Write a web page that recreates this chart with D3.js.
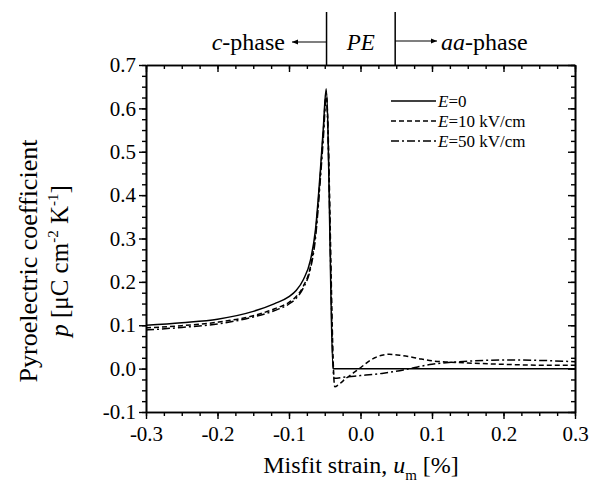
<!DOCTYPE html>
<html>
<head>
<meta charset="utf-8">
<script src="https://cdn.jsdelivr.net/npm/d3@7"></script>
</head>
<body style="margin:0">
<script>
// E = 0
const u0 = [-0.3, -0.25, -0.2, -0.15, -0.12, -0.1, -0.09, -0.08, -0.07, -0.063, -0.056, -0.052, -0.048, -0.038, 0.3];
const p0 = [0.100, 0.106, 0.114, 0.132, 0.150, 0.166, 0.180, 0.205, 0.250, 0.320, 0.460, 0.555, 0.645, 0.0, 0.0];
// E = 10 kV/cm
const u10 = [-0.3, -0.25, -0.2, -0.15, -0.12, -0.1, -0.09, -0.08, -0.07, -0.063, -0.056, -0.052, -0.048, -0.036, -0.03, -0.02, -0.01, 0.0, 0.01, 0.02, 0.03, 0.04, 0.055, 0.07, 0.085, 0.1, 0.125, 0.15, 0.2, 0.25, 0.3];
const p10 = [0.094, 0.099, 0.107, 0.122, 0.138, 0.153, 0.166, 0.190, 0.235, 0.310, 0.450, 0.545, 0.635, -0.042, -0.036, -0.022, -0.010, 0.002, 0.015, 0.025, 0.031, 0.033, 0.031, 0.027, 0.022, 0.018, 0.015, 0.013, 0.010, 0.008, 0.008];
// E = 50 kV/cm
const u50 = [-0.3, -0.25, -0.2, -0.15, -0.12, -0.1, -0.09, -0.08, -0.07, -0.063, -0.056, -0.052, -0.048, -0.037, -0.02, 0.0, 0.03, 0.06, 0.08, 0.1, 0.13, 0.16, 0.2, 0.25, 0.3];
const p50 = [0.089, 0.095, 0.103, 0.119, 0.134, 0.149, 0.162, 0.186, 0.230, 0.300, 0.440, 0.530, 0.625, -0.022, -0.019, -0.016, -0.011, -0.003, 0.004, 0.010, 0.015, 0.018, 0.020, 0.019, 0.016];

const xTicks = [-0.3, -0.2, -0.1, 0.0, 0.1, 0.2, 0.3];
const yTicks = [-0.1, 0.0, 0.1, 0.2, 0.3, 0.4, 0.5, 0.6, 0.7];
const legendLabels = ["0", "10 kV/cm", "50 kV/cm"];
const phaseBounds = [-0.0475, 0.0485];

const width = 589, height = 489;
const margin = {left: 146, right: 14, top: 65, bottom: 77};
const FONT = "Liberation Serif";

const svg = d3.select("body").append("svg")
    .attr("width", width)
    .attr("height", height)
    .attr("font-family", FONT);

const x = d3.scaleLinear().domain([-0.3, 0.3]).range([margin.left, width - margin.right]);
const y = d3.scaleLinear().domain([-0.1, 0.7]).range([height - margin.bottom, margin.top]);

const minorX = d3.range(-0.3, 0.3001, 0.025);
const minorY = d3.range(-0.1, 0.7001, 0.025);
const fmt = d => d.toFixed(1);

// axes: bottom/left ticks out, top/right ticks in
function drawAxis(axis, transform, labels) {
    const g = svg.append("g").attr("transform", transform).call(axis)
        .attr("font-family", FONT);
    g.select(".domain").attr("stroke-width", 1.6);
    g.selectAll(".tick line").attr("stroke-width", 1.4);
    if (!labels) g.selectAll(".tick text").remove();
    return g;
}

const xb = drawAxis(d3.axisBottom(x).tickValues(xTicks).tickSize(7).tickSizeOuter(0).tickFormat(fmt),
    `translate(0,${y(-0.1)})`, true);
xb.selectAll(".tick text").attr("font-size", 21).attr("y", 11).attr("dy", "0.85em");
drawAxis(d3.axisBottom(x).tickValues(minorX).tickSize(4).tickSizeOuter(0), `translate(0,${y(-0.1)})`, false);

const yl = drawAxis(d3.axisLeft(y).tickValues(yTicks).tickSize(7).tickSizeOuter(0).tickFormat(fmt),
    `translate(${x(-0.3)},0)`, true);
yl.selectAll(".tick text").attr("font-size", 21).attr("x", -10);
drawAxis(d3.axisLeft(y).tickValues(minorY).tickSize(4).tickSizeOuter(0), `translate(${x(-0.3)},0)`, false);

drawAxis(d3.axisBottom(x).tickValues(xTicks).tickSize(7).tickSizeOuter(0), `translate(0,${y(0.7)})`, false);
drawAxis(d3.axisBottom(x).tickValues(minorX).tickSize(4).tickSizeOuter(0), `translate(0,${y(0.7)})`, false);
drawAxis(d3.axisLeft(y).tickValues(yTicks).tickSize(-7).tickSizeOuter(0), `translate(${x(0.3)},0)`, false)
    .selectAll(".tick line").attr("x2", -7);
drawAxis(d3.axisLeft(y).tickValues(minorY).tickSize(-4).tickSizeOuter(0), `translate(${x(0.3)},0)`, false)
    .selectAll(".tick line").attr("x2", -4);

// curves
const line = d3.line()
    .x(d => x(d[0]))
    .y(d => y(d[1]))
    .curve(d3.curveMonotoneX);

const series = [
    {u: u0, p: p0, dash: null},
    {u: u10, p: p10, dash: "5,3"},
    {u: u50, p: p50, dash: "8,3,2,3"}
];

series.forEach(s => {
    svg.append("path")
        .datum(d3.zip(s.u, s.p))
        .attr("d", line)
        .attr("fill", "none")
        .attr("stroke", "#000")
        .attr("stroke-width", 1.5)
        .attr("stroke-dasharray", s.dash);
});

// legend
const lg = svg.append("g");
series.forEach((s, i) => {
    const ly = 101 + i * 20;
    lg.append("line")
        .attr("x1", 391).attr("x2", 436)
        .attr("y1", ly).attr("y2", ly)
        .attr("stroke", "#000")
        .attr("stroke-width", 1.5)
        .attr("stroke-dasharray", s.dash);
    const t = lg.append("text")
        .attr("x", 438).attr("y", ly + 6)
        .attr("font-size", 17);
    t.append("tspan").attr("font-style", "italic").text("E");
    t.append("tspan").text("=" + legendLabels[i]);
});

// phase boundaries above the plot
phaseBounds.forEach(b => {
    svg.append("line")
        .attr("x1", x(b)).attr("x2", x(b))
        .attr("y1", 12).attr("y2", y(0.7))
        .attr("stroke", "#000").attr("stroke-width", 1.5);
});

svg.append("defs").append("marker")
    .attr("id", "arr")
    .attr("viewBox", "0 0 10 10")
    .attr("refX", 10).attr("refY", 5)
    .attr("markerWidth", 6).attr("markerHeight", 5)
    .attr("orient", "auto")
    .append("path").attr("d", "M0,1L10,5L0,9z").attr("fill", "#000");

svg.append("line")
    .attr("x1", x(phaseBounds[0])).attr("x2", 292)
    .attr("y1", 42).attr("y2", 42)
    .attr("stroke", "#000").attr("stroke-width", 1.2)
    .attr("marker-end", "url(#arr)");
svg.append("line")
    .attr("x1", x(phaseBounds[1])).attr("x2", 437)
    .attr("y1", 41).attr("y2", 41)
    .attr("stroke", "#000").attr("stroke-width", 1.2)
    .attr("marker-end", "url(#arr)");

const ct = svg.append("text").attr("x", 285).attr("y", 50).attr("font-size", 24).attr("text-anchor", "end");
ct.append("tspan").attr("font-style", "italic").text("c");
ct.append("tspan").text("-phase");

svg.append("text").attr("x", (x(phaseBounds[0]) + x(phaseBounds[1])) / 2).attr("y", 50)
    .attr("font-size", 23).attr("font-style", "italic").attr("text-anchor", "middle").text("PE");

const at = svg.append("text").attr("x", 441).attr("y", 50).attr("font-size", 24);
at.append("tspan").attr("font-style", "italic").text("aa");
at.append("tspan").text("-phase");

// axis titles
const xt = svg.append("text")
    .attr("x", 361).attr("y", 473)
    .attr("font-size", 24)
    .attr("text-anchor", "middle");
xt.append("tspan").text("Misfit strain, ");
xt.append("tspan").attr("font-style", "italic").text("u");
xt.append("tspan").attr("font-size", 15).attr("dy", 7).text("m");
xt.append("tspan").attr("dy", -7).text(" [%]");

svg.append("text")
    .attr("transform", "translate(37,261) rotate(-90)")
    .attr("font-size", 26)
    .attr("text-anchor", "middle")
    .text("Pyroelectric coefficient");

const yt = svg.append("text")
    .attr("transform", "translate(68,261) rotate(-90)")
    .attr("font-size", 25)
    .attr("text-anchor", "middle");
yt.append("tspan").attr("font-style", "italic").text("p");
yt.append("tspan").text(" [\u03bcC cm");
yt.append("tspan").attr("font-size", 15).attr("dy", -10).text("-2");
yt.append("tspan").attr("dy", 10).text(" K");
yt.append("tspan").attr("font-size", 15).attr("dy", -10).text("-1");
yt.append("tspan").attr("dy", 10).text("]");

svg.selectAll("text, tspan").attr("font-family", FONT).style("font-family", FONT);
</script>
</body>
</html>
